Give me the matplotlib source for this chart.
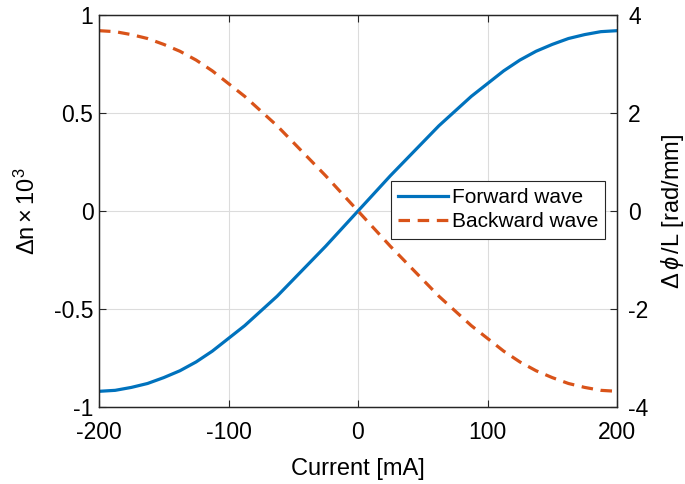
import matplotlib
matplotlib.use("Agg")
import matplotlib.pyplot as plt

# current sweep [mA] and read-off index change (x 1e3)
current = [-200, -187.5, -175, -162.5, -150, -137.5, -125, -112.5, -100,
           -87.5, -75, -62.5, -50, -37.5, -25, -12.5, 0,
           12.5, 25, 37.5, 50, 62.5, 75, 87.5, 100,
           112.5, 125, 137.5, 150, 162.5, 175, 187.5, 200]
forward = [-0.92, -0.915, -0.90, -0.88, -0.85, -0.815, -0.77, -0.715, -0.65,
           -0.585, -0.51, -0.435, -0.35, -0.265, -0.18, -0.09, 0.0,
           0.09, 0.18, 0.265, 0.35, 0.435, 0.51, 0.585, 0.65,
           0.715, 0.77, 0.815, 0.85, 0.88, 0.90, 0.915, 0.92]
backward = [0.92, 0.915, 0.90, 0.88, 0.85, 0.815, 0.77, 0.715, 0.65,
            0.585, 0.51, 0.435, 0.35, 0.265, 0.18, 0.09, 0.0,
            -0.09, -0.18, -0.265, -0.35, -0.435, -0.51, -0.585, -0.65,
            -0.715, -0.77, -0.815, -0.85, -0.88, -0.90, -0.915, -0.92]

x_ticks = [-200, -100, 0, 100, 200]
left_ticks = [-1, -0.5, 0, 0.5, 1]
left_labels = ['-1', '-0.5', '0', '0.5', '1']
right_ticks = [-4, -2, 0, 2, 4]

plt.rcParams['font.family'] = ['Liberation Sans', 'DejaVu Sans']
plt.rcParams['mathtext.fontset'] = 'custom'
plt.rcParams['mathtext.rm'] = 'Liberation Sans'
plt.rcParams['mathtext.it'] = 'Liberation Sans:italic'

fig = plt.figure(figsize=(6.85, 4.84), dpi=100)
ax = fig.add_axes([99 / 685, 1 - 407 / 484, 518 / 685, 392 / 484])

ax.plot(current, forward, color='#0072BD', linewidth=2.3, label='Forward wave')
ax.plot(current, backward, color='#D95319', linewidth=2.3, linestyle=(0, (3.6, 2.4)),
        label='Backward wave')

ax.set_xlim(-200, 200)
ax.set_ylim(-1, 1)
ax.set_xticks(x_ticks)
ax.set_xticklabels([str(t) for t in x_ticks])
ax.set_yticks(left_ticks)
ax.set_yticklabels(left_labels)
ax.grid(True, color='#dcdcdc', linewidth=0.8)
ax.tick_params(direction='in', labelsize=16.5, top=True, length=5, width=0.8,
               colors='#262626', labelcolor='black')
ax.tick_params(axis='x', pad=10)
ax.tick_params(axis='y', pad=4)
for s in ax.spines.values():
    s.set_color('#262626')
    s.set_linewidth(0.9)

ax.set_xlabel('Current [mA]', fontsize=17, labelpad=10)
ax.set_ylabel(r'$\Delta\mathrm{n}\times10^3$', fontsize=17, labelpad=10)

ax2 = ax.twinx()
ax2.set_ylim(-4, 4)
ax2.set_yticks(right_ticks)
ax2.set_yticklabels([str(t) for t in right_ticks])
ax2.tick_params(direction='in', labelsize=16.5, length=5, width=0.8,
                colors='#262626', labelcolor='black', pad=8)
ax2.set_ylabel(r'$\Delta\,\phi\,$/L [rad/mm]', fontsize=17, labelpad=8)
for s in ax2.spines.values():
    s.set_color('#262626')
    s.set_linewidth(0.9)

leg = ax.legend(loc='upper left', bbox_to_anchor=(0.564, 0.577), fontsize=15,
                handlelength=2.4, handletextpad=0.15, borderpad=0.35,
                labelspacing=0.25, fancybox=False, framealpha=1,
                borderaxespad=0)
leg.get_frame().set_edgecolor('#262626')
leg.get_frame().set_linewidth(0.8)

fig.savefig('out.png', dpi=100)
